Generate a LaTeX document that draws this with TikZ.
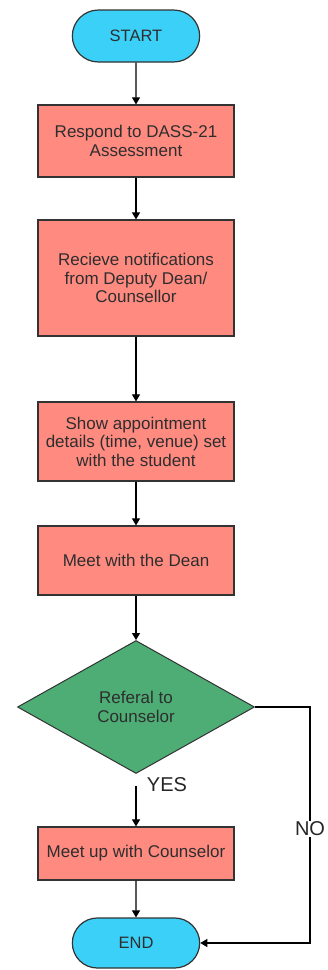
\documentclass[tikz,border=0pt]{standalone}
\usepackage{fontspec}
\setmainfont{Liberation Sans}
\usepackage{tikz}
\usetikzlibrary{arrows.meta,shapes.geometric,shapes.misc}

\definecolor{termblue}{HTML}{3BD0F7}
\definecolor{stepred}{HTML}{FF8A80}
\definecolor{decgreen}{HTML}{4DAD74}
\definecolor{edgegray}{HTML}{333333}
\definecolor{txtgray}{HTML}{2E2E2E}

\begin{document}
\begin{tikzpicture}[x=1pt,y=-1pt,
  terminal/.style={rounded rectangle,draw=edgegray,line width=1.2pt,fill=termblue,
    minimum width=134pt,minimum height=52pt,text=txtgray,font=\fontsize{16.5}{18}\selectfont},
  stepbox/.style={rectangle,draw=edgegray,line width=1.2pt,fill=stepred,
    minimum width=196pt,text=txtgray,align=center,font=\fontsize{17}{18.5}\selectfont},
  decision/.style={diamond,draw=edgegray,line width=1pt,fill=decgreen,
    minimum width=237pt,minimum height=133pt,shape aspect=1.78,inner sep=0pt,
    text=txtgray,align=center,font=\fontsize{17}{18.5}\selectfont},
  flow/.style={draw=black,line width=1.1pt,-{Triangle[length=7pt,width=8pt]}},
  answer/.style={fill=white,inner sep=1pt,text=black!85,font=\fontsize{20}{22}\selectfont}]
\useasboundingbox (0,0) rectangle (327,970);

% Start / end
\node[terminal] (start) at (136,36) {START};
\node[terminal,minimum height=50pt] (end) at (136,943) {END};

% Steps
\node[stepbox,minimum height=72pt] (respond) at (136,141) {Respond to DASS-21\\Assessment};
\node[stepbox,minimum height=116pt] (notify) at (136,278) {Recieve notifications\\from Deputy Dean/\\Counsellor};
\node[stepbox,minimum height=79pt] (appoint) at (136,441.5) {Show appointment\\details (time, venue) set\\with the student};
\node[stepbox,minimum height=69pt] (dean) at (136,560.5) {Meet with the Dean};
\node[stepbox,minimum height=53pt] (counsel) at (136,853.5) {Meet up with Counselor};

% Decision
\node[decision] (referal) at (136,707) {Referal to\\Counselor};

% Straight flow
\foreach \a/\b in {start/respond,respond/notify,notify/appoint,appoint/dean,dean/referal,counsel/end}
  \draw[flow] (\a) -- (\b);

% YES branch
\draw[flow,shorten <=12pt] (referal.south) -- (counsel.north);
\node[answer,fill=none] (yes) at (167,785) {YES};

% NO branch
\coordinate (nobend) at (310,707);
\draw[flow] (referal.east) -- (nobend) |- (end.east);
\node[answer] (no) at (310,829) {NO};
\end{tikzpicture}
\end{document}
